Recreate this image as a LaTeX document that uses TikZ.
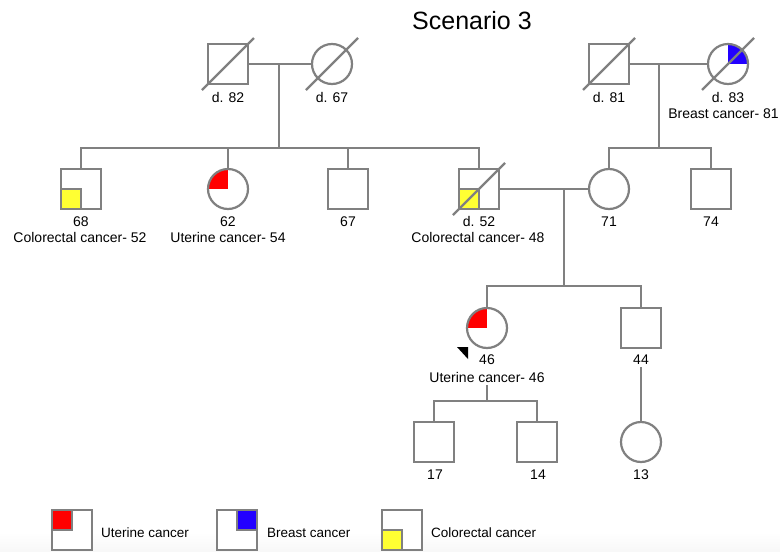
\documentclass[tikz,border=0pt]{standalone}
\usepackage{fontspec}
\setmainfont{Liberation Sans}
\definecolor{lgray}{RGB}{128,128,128}
\definecolor{ured}{RGB}{255,0,0}
\definecolor{bblue}{RGB}{34,0,255}
\definecolor{cyellow}{RGB}{255,255,51}
\tikzset{
  pline/.style={draw=lgray, line width=2.2pt},
  male/.style={rectangle, draw=lgray, line width=2.2pt, fill=white, minimum size=40pt, inner sep=0pt},
  female/.style={circle, draw=lgray, line width=2.2pt, fill=white, minimum size=40pt, inner sep=0pt},
  pieU/.style={path picture={\fill[ured] (path picture bounding box.center) rectangle (path picture bounding box.north west);}},
  pieB/.style={path picture={\fill[bblue] (path picture bounding box.center) rectangle (path picture bounding box.north east);}},
  sqU/.style={path picture={\filldraw[fill=ured, draw=lgray, line width=2pt] (path picture bounding box.center) rectangle (path picture bounding box.north west);}},
  sqB/.style={path picture={\filldraw[fill=bblue, draw=lgray, line width=2pt] (path picture bounding box.center) rectangle (path picture bounding box.north east);}},
  sqC/.style={path picture={\filldraw[fill=cyellow, draw=lgray, line width=2pt] (path picture bounding box.center) rectangle (path picture bounding box.south west);}},
  lbl/.style={font=\fontsize{14}{16}\selectfont, anchor=base, inner sep=0pt},
  lgtext/.style={font=\fontsize{13.5}{16}\selectfont, anchor=base west, inner sep=0pt},
}
\begin{document}
\begin{tikzpicture}[x=1pt, y=-1pt]
\useasboundingbox (0,0) rectangle (780,552);
\clip (0,0) rectangle (780,552);
\fill[white] (0,0) rectangle (780,552);
\shade[top color=white, bottom color=gray!6] (0,532) rectangle (780,552);

% title
\node[font=\fontsize{25}{30}\selectfont, anchor=base, inner sep=0pt] (title) at (472,29) {Scenario 3};

% generation 1
\node[male] (n82) at (228,64) {};
\node[female] (n67d) at (332,64) {};
\node[male] (n81) at (609,64) {};
\node[female, pieB] (n83) at (728,64) {};

% generation 2
\node[male, sqC] (n68) at (81,189) {};
\node[female, pieU] (n62) at (228,189) {};
\node[male] (n67) at (348,189) {};
\node[male, sqC] (n52) at (479,189) {};
\node[female] (n71) at (609,189) {};
\node[male] (n74) at (711,189) {};

% generation 3
\node[female, pieU] (n46) at (487,328) {};
\node[male] (n44) at (641,328) {};

% generation 4
\node[male] (n17) at (434,442) {};
\node[male] (n14) at (537,442) {};
\node[female] (n13) at (641,442) {};

% deceased slashes
\foreach \n in {n82,n67d,n81,n83,n52}
  \draw[pline] ([shift={(-26pt,-26pt)}]\n.center) -- ([shift={(26pt,26pt)}]\n.center);

% coordinates
\coordinate (m1) at (279,64);
\coordinate (s1) at (279,148);
\coordinate (m2) at (659,64);
\coordinate (s2) at (659,148);
\coordinate (m3) at (564,189);
\coordinate (s3) at (564,286);
\coordinate (c46) at (487,385);
\coordinate (s4) at (487,401);
\coordinate (c44) at (641,367);

% marriages and descent
\draw[pline] (n82.east) -- (n67d.west);
\draw[pline] (m1) -- (s1);
\draw[pline] (n68.north) |- (s1) -| (n52.north);
\draw[pline] (n62.north) -- (n62.north |- s1);
\draw[pline] (n67.north) -- (n67.north |- s1);

\draw[pline] (n81.east) -- (n83.west);
\draw[pline] (m2) -- (s2);
\draw[pline] (n71.north) |- (s2) -| (n74.north);

\draw[pline] (n52.east) -- (n71.west);
\draw[pline] (m3) -- (s3);
\draw[pline] (n46.north) |- (s3) -| (n44.north);

\draw[pline] (c46) -- (s4);
\draw[pline] (n17.north) |- (s4) -| (n14.north);
\draw[pline] (c44) -- (n13.north);

% proband arrow
\fill[black] (457,347) -- (468,347) -- (468,359) -- cycle;

% labels
\node[lbl] (l82) at (228,102) {d. 82};
\node[lbl] (l67d) at (332,102) {d. 67};
\node[lbl] (l81) at (609,102) {d. 81};
\node[lbl] (l83) at (728,102) {d. 83};
\node[lbl, anchor=base east] (l83b) at (779,118) {Breast cancer- 81};

\node[lbl] (l68) at (81,226) {68};
\node[lbl] (l68b) at (80,242) {Colorectal cancer- 52};
\node[lbl] (l62) at (228,226) {62};
\node[lbl] (l62b) at (228,242) {Uterine cancer- 54};
\node[lbl] (l67) at (348,226) {67};
\node[lbl] (l52) at (479,226) {d. 52};
\node[lbl] (l52b) at (478,242) {Colorectal cancer- 48};
\node[lbl] (l71) at (609,226) {71};
\node[lbl] (l74) at (711,226) {74};

\node[lbl] (l46) at (487,364) {46};
\node[lbl] (l46b) at (487,382) {Uterine cancer- 46};
\node[lbl] (l44) at (641,364) {44};

\node[lbl] (l17) at (435,479) {17};
\node[lbl] (l14) at (538,479) {14};
\node[lbl] (l13) at (641,479) {13};

% legend
\node[male, sqU] (lgU) at (72,530) {};
\node[lgtext] (lgUt) at (101,537) {Uterine cancer};
\node[male, sqB] (lgB) at (237,530) {};
\node[lgtext] (lgBt) at (267,537) {Breast cancer};
\node[male, sqC] (lgC) at (402,530) {};
\node[lgtext] (lgCt) at (431,537) {Colorectal cancer};
\end{tikzpicture}
\end{document}
